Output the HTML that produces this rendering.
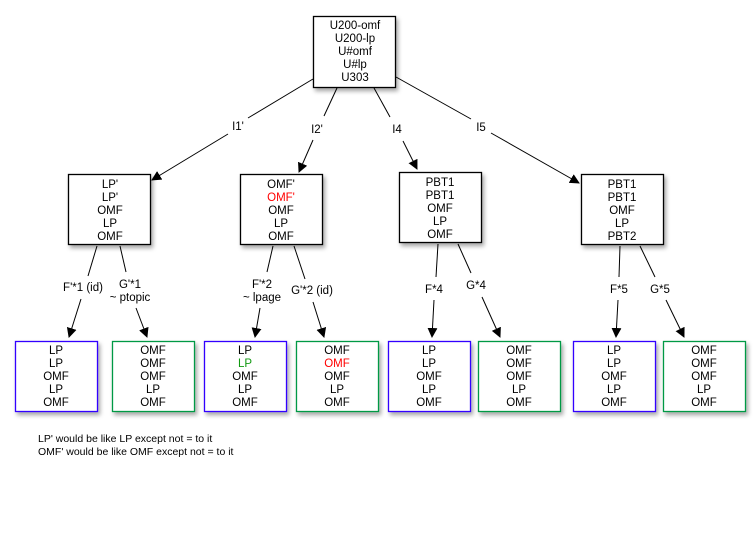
<!DOCTYPE html>
<html><head><meta charset="utf-8"><style>
html,body{margin:0;padding:0;background:#fff;}
svg{display:block;font-family:"Liberation Sans",Arial,sans-serif;}
</style></head><body>
<svg width="756" height="553" viewBox="0 0 756 553" xmlns="http://www.w3.org/2000/svg">
<defs>
<filter id="sh" x="-20%" y="-20%" width="150%" height="150%"><feDropShadow dx="2" dy="3" stdDeviation="2" flood-color="#000" flood-opacity="0.35"/></filter>
<marker id="ar" markerWidth="10" markerHeight="10" refX="9" refY="5" orient="auto" markerUnits="userSpaceOnUse"><path d="M0,0 L10,5 L0,10 z" fill="#000"/></marker>
</defs>
<rect width="756" height="553" fill="#fff"/>
<g stroke="#000" stroke-width="1" fill="none">
<!-- top to mid -->
<line x1="313" y1="79" x2="248" y2="118"/><line x1="228" y1="134" x2="152" y2="180" marker-end="url(#ar)"/>
<line x1="337" y1="88" x2="324" y2="116"/><line x1="313" y1="140" x2="299" y2="172" marker-end="url(#ar)"/>
<line x1="374" y1="88" x2="390" y2="117"/><line x1="403" y1="141" x2="417" y2="169" marker-end="url(#ar)"/>
<line x1="396" y1="77" x2="471" y2="119"/><line x1="491" y1="133" x2="579" y2="183" marker-end="url(#ar)"/>
<!-- mid to bottom -->
<line x1="97" y1="246" x2="88" y2="276"/><line x1="81" y1="299" x2="69" y2="337" marker-end="url(#ar)"/>
<line x1="120" y1="246" x2="126" y2="272"/><line x1="136" y1="308" x2="147" y2="337" marker-end="url(#ar)"/>
<line x1="273" y1="246" x2="267" y2="272"/><line x1="260" y1="308" x2="255" y2="337" marker-end="url(#ar)"/>
<line x1="294" y1="246" x2="305" y2="279"/><line x1="313" y1="302" x2="324" y2="337" marker-end="url(#ar)"/>
<line x1="438" y1="244" x2="436" y2="277"/><line x1="434" y1="300" x2="432" y2="337" marker-end="url(#ar)"/>
<line x1="458" y1="244" x2="471" y2="273"/><line x1="482" y1="297" x2="500" y2="337" marker-end="url(#ar)"/>
<line x1="620" y1="246" x2="619" y2="277"/><line x1="618" y1="300" x2="616" y2="337" marker-end="url(#ar)"/>
<line x1="640" y1="246" x2="655" y2="277"/><line x1="666" y1="300" x2="684" y2="337" marker-end="url(#ar)"/>
</g>
<g fill="#fff" stroke-width="1.3" filter="url(#sh)">
<rect x="313.5" y="16.5" width="82" height="71" stroke="#000"/>
<rect x="68.5" y="174.5" width="82" height="70" stroke="#000"/>
<rect x="240.5" y="174.5" width="82" height="70" stroke="#000"/>
<rect x="399.5" y="172.5" width="82" height="70" stroke="#000"/>
<rect x="581.5" y="174.5" width="82" height="70" stroke="#000"/>
<rect x="15.5" y="341.5" width="82" height="70" stroke="#3300ff"/>
<rect x="112.5" y="341.5" width="82" height="70" stroke="#009944"/>
<rect x="204.5" y="341.5" width="82" height="70" stroke="#3300ff"/>
<rect x="296.5" y="341.5" width="82" height="70" stroke="#009944"/>
<rect x="388.5" y="341.5" width="82" height="70" stroke="#3300ff"/>
<rect x="478.5" y="341.5" width="82" height="70" stroke="#009944"/>
<rect x="573.5" y="341.5" width="82" height="70" stroke="#3300ff"/>
<rect x="663.5" y="341.5" width="82" height="70" stroke="#009944"/>
</g>
<g font-size="11.5" text-anchor="middle" fill="#000">
<text x="355" y="29">U200-omf</text><text x="355" y="42">U200-lp</text><text x="355" y="55">U#omf</text><text x="355" y="68">U#lp</text><text x="355" y="81">U303</text>
<text x="110" y="188">LP'</text><text x="110" y="201">LP'</text><text x="110" y="214">OMF</text><text x="110" y="227">LP</text><text x="110" y="240">OMF</text>
<text x="281" y="188">OMF'</text><text x="281" y="201" fill="#ff0000">OMF'</text><text x="281" y="214">OMF</text><text x="281" y="227">LP</text><text x="281" y="240">OMF</text>
<text x="440" y="186">PBT1</text><text x="440" y="199">PBT1</text><text x="440" y="212">OMF</text><text x="440" y="225">LP</text><text x="440" y="238">OMF</text>
<text x="622" y="188">PBT1</text><text x="622" y="201">PBT1</text><text x="622" y="214">OMF</text><text x="622" y="227">LP</text><text x="622" y="240">PBT2</text>
<g>
<text x="56" y="354">LP</text><text x="56" y="367">LP</text><text x="56" y="380">OMF</text><text x="56" y="393">LP</text><text x="56" y="406">OMF</text>
<text x="153" y="354">OMF</text><text x="153" y="367">OMF</text><text x="153" y="380">OMF</text><text x="153" y="393">LP</text><text x="153" y="406">OMF</text>
<text x="245" y="354">LP</text><text x="245" y="367" fill="#119911">LP</text><text x="245" y="380">OMF</text><text x="245" y="393">LP</text><text x="245" y="406">OMF</text>
<text x="337" y="354">OMF</text><text x="337" y="367" fill="#ff0000">OMF</text><text x="337" y="380">OMF</text><text x="337" y="393">LP</text><text x="337" y="406">OMF</text>
<text x="429" y="354">LP</text><text x="429" y="367">LP</text><text x="429" y="380">OMF</text><text x="429" y="393">LP</text><text x="429" y="406">OMF</text>
<text x="519" y="354">OMF</text><text x="519" y="367">OMF</text><text x="519" y="380">OMF</text><text x="519" y="393">LP</text><text x="519" y="406">OMF</text>
<text x="614" y="354">LP</text><text x="614" y="367">LP</text><text x="614" y="380">OMF</text><text x="614" y="393">LP</text><text x="614" y="406">OMF</text>
<text x="704" y="354">OMF</text><text x="704" y="367">OMF</text><text x="704" y="380">OMF</text><text x="704" y="393">LP</text><text x="704" y="406">OMF</text>
</g>
<text x="238" y="130">I1'</text><text x="317" y="133">I2'</text><text x="397" y="133">I4</text><text x="481" y="131">I5</text>
<text x="83" y="291">F'*1 (id)</text>
<text x="130" y="288">G'*1</text><text x="130" y="301">~ ptopic</text>
<text x="262" y="288">F'*2</text><text x="262" y="301">~ lpage</text>
<text x="312" y="294">G'*2 (id)</text>
<text x="434" y="293">F*4</text><text x="476" y="289">G*4</text>
<text x="619" y="293">F*5</text><text x="660" y="293">G*5</text>
</g>
<g font-size="10.5" fill="#000">
<text x="38" y="442">LP' would be like LP except not = to it</text>
<text x="38" y="455">OMF' would be like OMF except not = to it</text>
</g>
</svg>
</body></html>
